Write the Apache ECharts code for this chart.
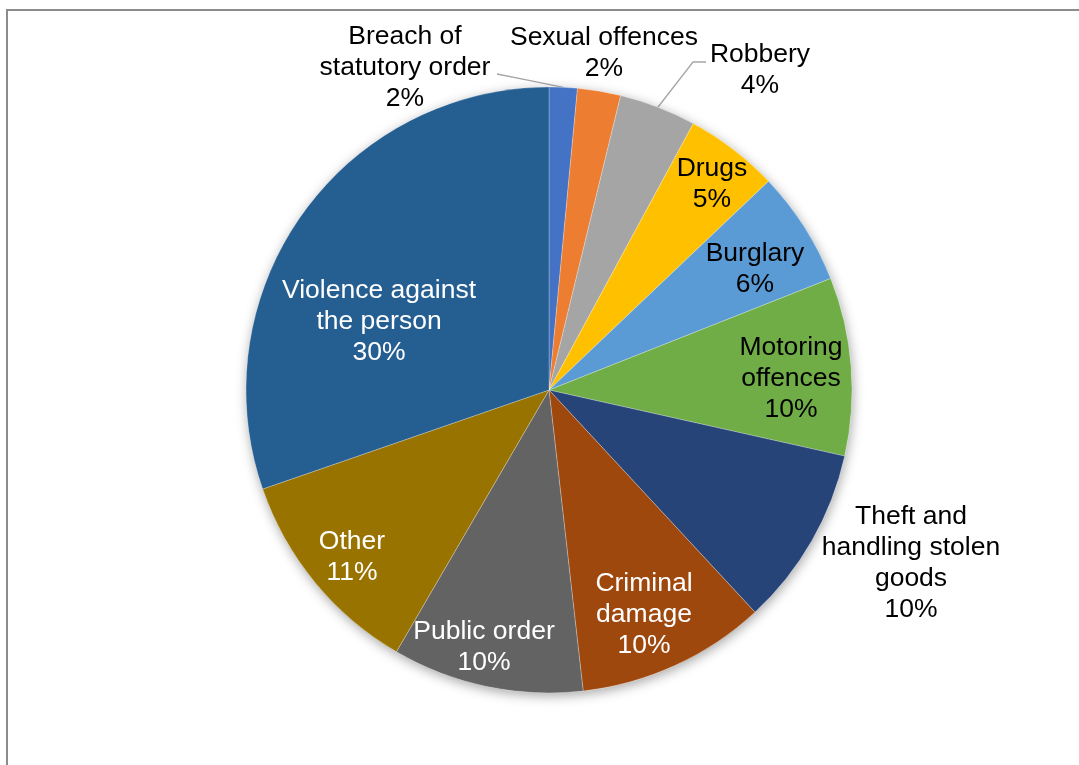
<!DOCTYPE html>
<html>
<head>
<meta charset="utf-8">
<title>Offence groups</title>
<script src="https://cdn.jsdelivr.net/npm/echarts@6/dist/echarts.min.js"></script>
<style>
  html, body { margin: 0; padding: 0; background: #fff; }
  #frame {
    position: absolute; left: 6px; top: 9px; width: 1090px; height: 770px;
    border-left: 2px solid #8c8c8c; border-top: 2px solid #8c8c8c;
  }
  #chart { position: absolute; left: 0; top: 0; width: 1079px; height: 765px; }
</style>
</head>
<body>
<div id="frame"></div>
<div id="chart"></div>
<script>
// 各类罪行占比
const categories = [
    'Breach of statutory order', 'Sexual offences', 'Robbery', 'Drugs', 'Burglary',
    'Motoring offences', 'Theft and handling stolen goods', 'Criminal damage',
    'Public order', 'Other', 'Violence against the person'
];
const shares = [1.5, 2.3, 4.1, 5.0, 6.1, 9.5, 9.6, 10.1, 10.2, 11.3, 30.3];

// 标签换行
const labelLines = [
    ['Breach of', 'statutory order'], ['Sexual offences'], ['Robbery'], ['Drugs'], ['Burglary'],
    ['Motoring', 'offences'], ['Theft and', 'handling stolen', 'goods'], ['Criminal', 'damage'],
    ['Public order'], ['Other'], ['Violence against', 'the person']
];

const colors = [
    '#4472C4', '#ED7D31', '#A5A5A5', '#FFC000', '#5B9BD5', '#70AD47',
    '#264478', '#9E480E', '#636363', '#997300', '#255E91'
];

// 标签位置（像素）
const labelSpots = [
    [405, 68], [604, 53], [760, 70], [712, 184], [755, 269], [791, 379],
    [911, 563], [644, 615], [484, 647], [352, 557], [379, 322]
];
const outsideIdx = [0, 1, 2, 6];
const whiteText = [7, 8, 9, 10];

const center = [549, 390];
const radius = 303;

const chart = echarts.init(document.getElementById('chart'));

const pieData = categories.map((name, i) => ({
    name: name,
    value: shares[i],
    label: {
        position: outsideIdx.includes(i) ? 'outside' : 'inside',
        color: whiteText.includes(i) ? '#ffffff' : '#000000'
    },
    labelLine: { show: i === 0 || i === 2 }
}));

const option = {
    animation: false,
    color: colors,
    series: [
        {
            // 饼图阴影底
            type: 'pie',
            silent: true,
            center: center,
            radius: radius,
            label: { show: false },
            labelLine: { show: false },
            itemStyle: {
                color: '#ffffff',
                shadowBlur: 12,
                shadowColor: 'rgba(0,0,0,0.35)',
                shadowOffsetX: 1,
                shadowOffsetY: 3
            },
            data: [{ value: 1, name: 'bg' }]
        },
        {
            type: 'pie',
            center: center,
            radius: radius,
            startAngle: 90,
            clockwise: true,
            avoidLabelOverlap: false,
            itemStyle: { borderColor: 'rgba(255,255,255,0.5)', borderWidth: 0.5 },
            label: {
                show: true,
                fontFamily: 'Liberation Sans, Arial, sans-serif',
                fontSize: 26.5,
                lineHeight: 31,
                align: 'center',
                formatter: function (p) {
                    return labelLines[p.dataIndex].join('\n') + '\n' + Math.round(p.percent) + '%';
                }
            },
            labelLine: {
                length: 10,
                length2: 10,
                lineStyle: { color: '#a6a6a6', width: 1.3 }
            },
            labelLayout: function (params) {
                const spot = labelSpots[params.dataIndex];
                const out = { x: spot[0], y: spot[1], align: 'center', verticalAlign: 'middle' };
                const pts = params.labelLinePoints;
                if (pts && params.dataIndex === 0) {
                    const start = pts[0];
                    const end = [497, 74];
                    out.labelLinePoints = [start, [(start[0] + end[0]) / 2, (start[1] + end[1]) / 2], end];
                } else if (pts && params.dataIndex === 2) {
                    out.labelLinePoints = [pts[0], [693, 62], [706, 62]];
                }
                return out;
            },
            emphasis: { disabled: true },
            data: pieData
        }
    ]
};

chart.setOption(option);
</script>
</body>
</html>
